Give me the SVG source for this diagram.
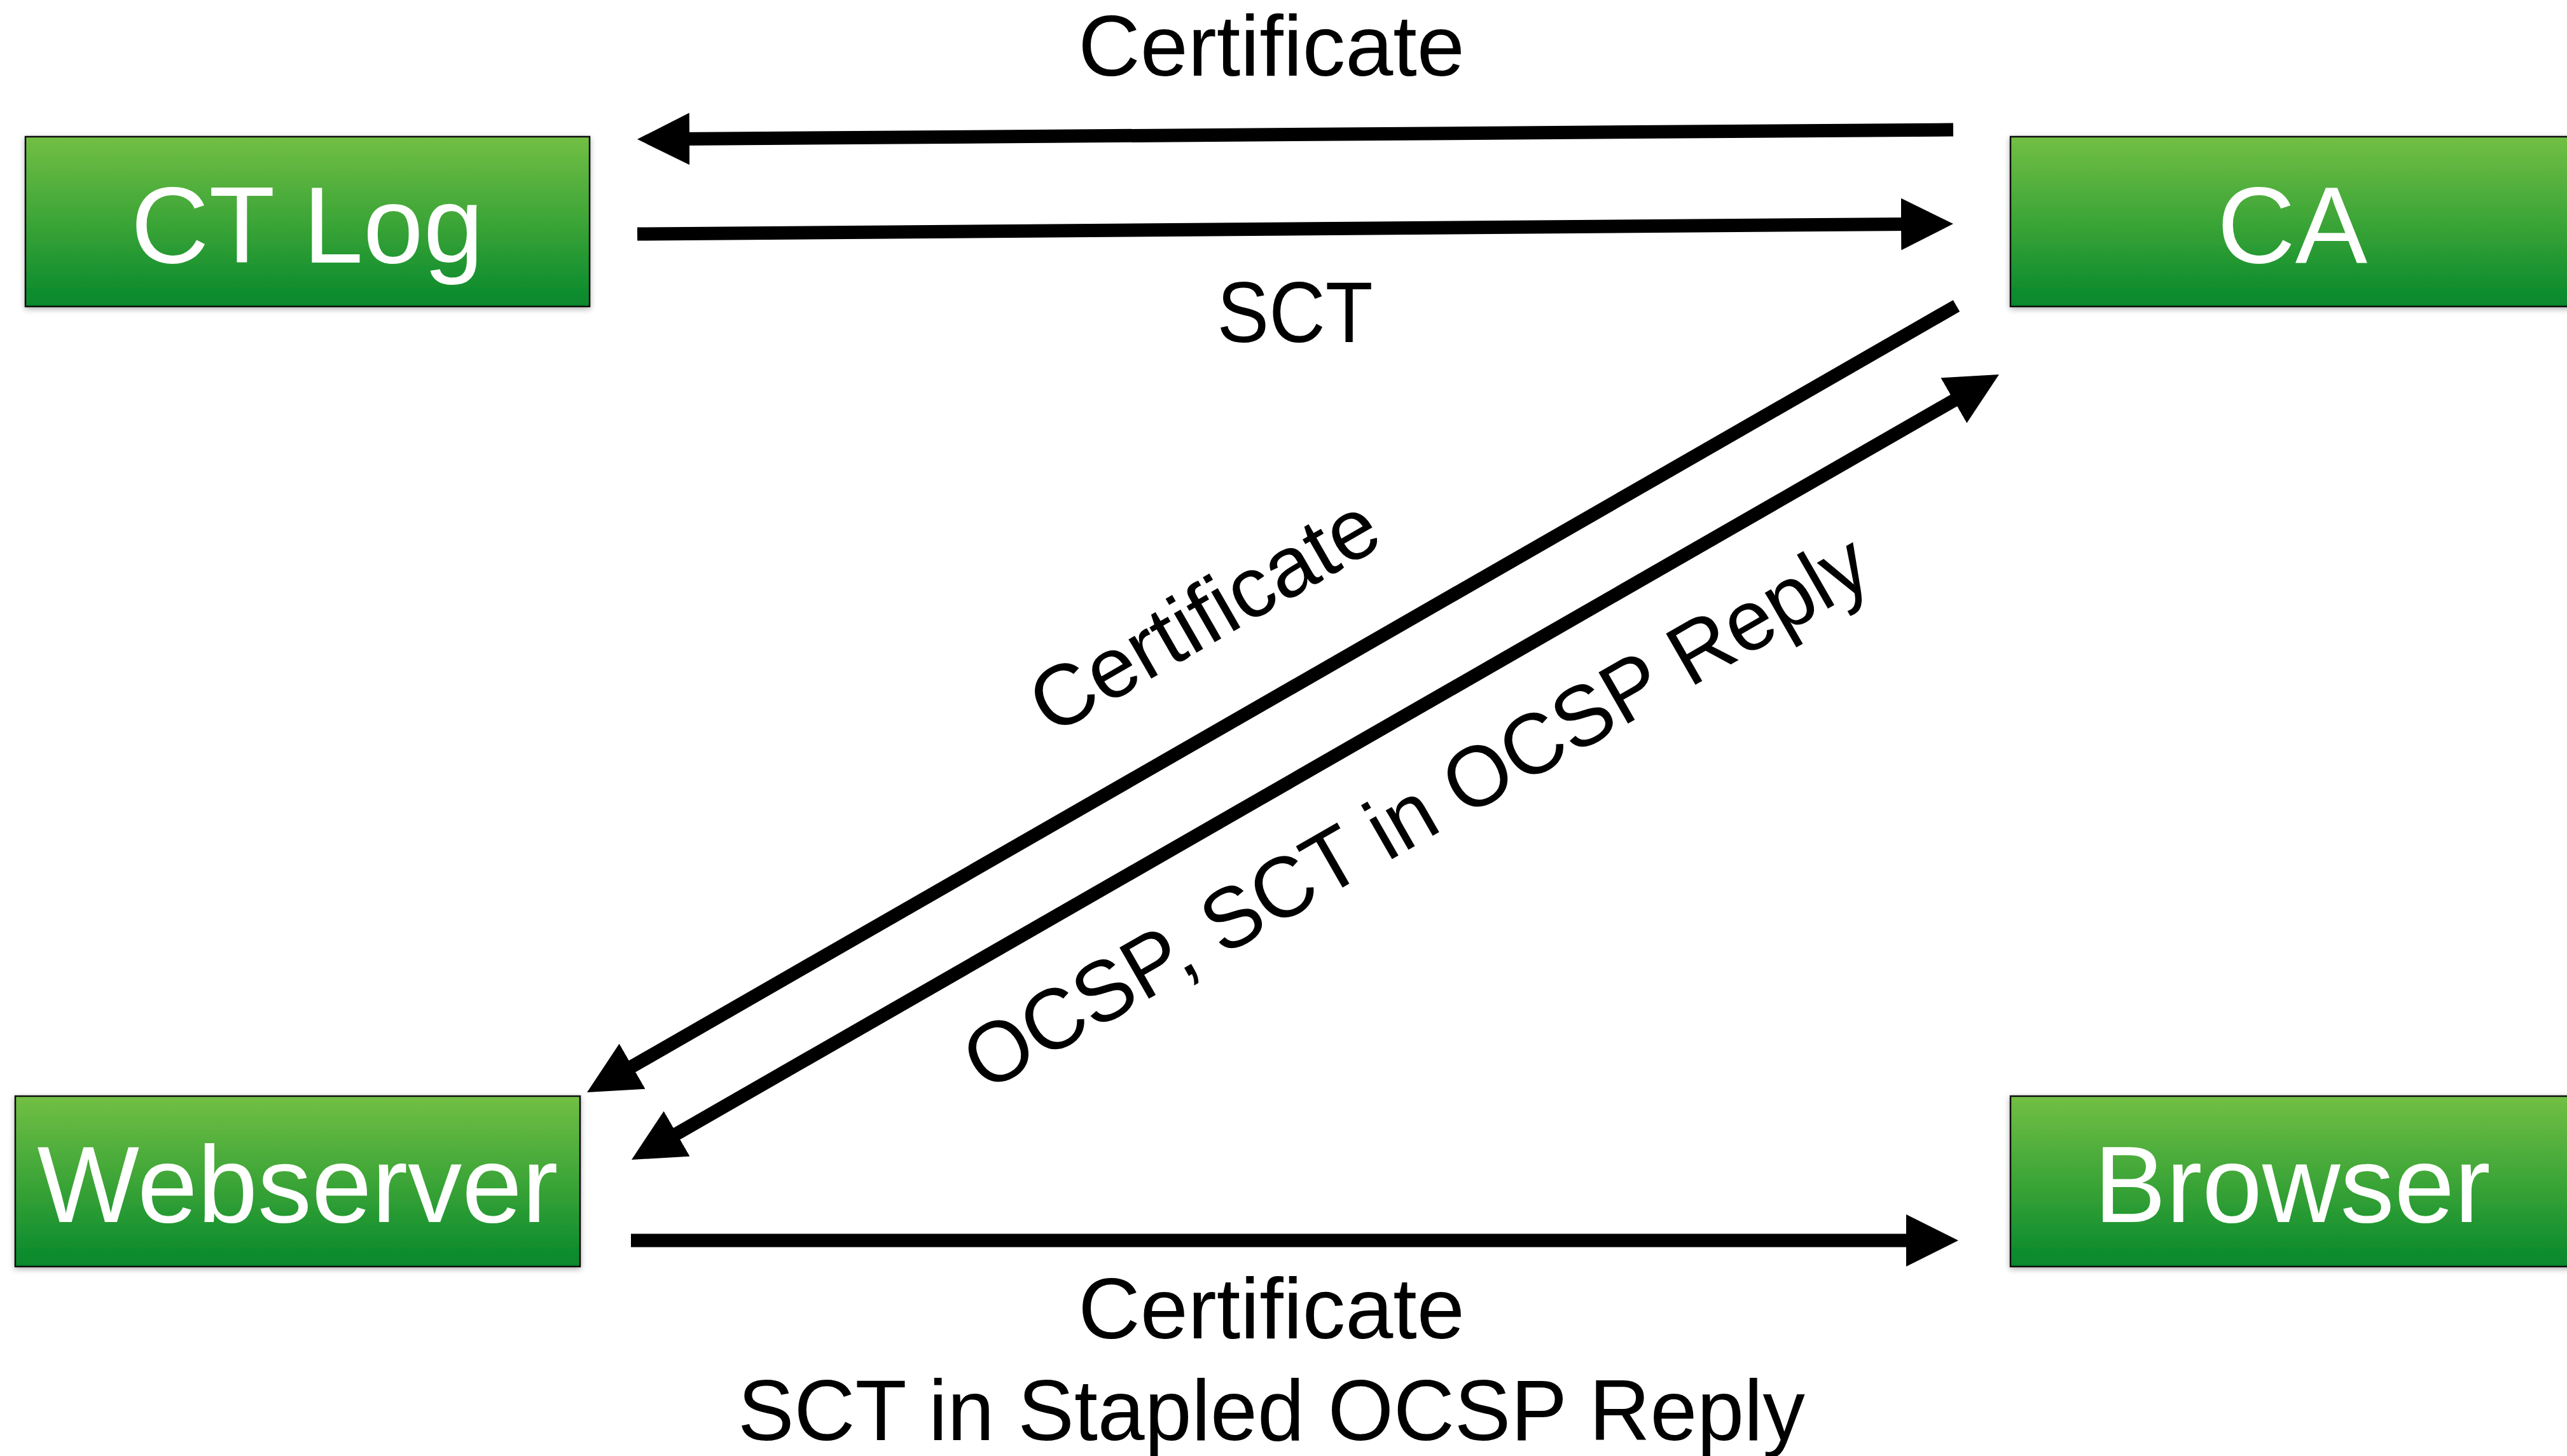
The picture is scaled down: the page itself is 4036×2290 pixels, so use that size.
<svg xmlns="http://www.w3.org/2000/svg" width="4036" height="2290" viewBox="0 0 4036 2290">
  <defs>
    <linearGradient id="g" x1="0" y1="0" x2="0" y2="1">
      <stop offset="0" stop-color="#72bf44"/>
      <stop offset="0.5" stop-color="#3ca537"/>
      <stop offset="1" stop-color="#05882c"/>
    </linearGradient>
    <filter id="sh" x="-5%" y="-10%" width="110%" height="120%">
      <feDropShadow dx="0" dy="3" stdDeviation="5" flood-color="#000" flood-opacity="0.3"/>
    </filter>
    <marker id="ah" markerUnits="userSpaceOnUse" viewBox="0 0 82 82" markerWidth="82" markerHeight="82" refX="12" refY="41" orient="auto-start-reverse">
      <path d="M0,0 L82,41 L0,82 z" fill="#000"/>
    </marker>
    <style>
      .box { fill: url(#g); stroke: #111; stroke-width: 2.5; filter: url(#sh); }
      .nt { font-family: "Liberation Sans", Arial, sans-serif; font-size: 170px; fill: #fff; text-anchor: middle; }
      .lb { font-family: "Liberation Sans", Arial, sans-serif; font-size: 135px; fill: #000; text-anchor: middle; }
      .ar { stroke: #000; stroke-width: 21; fill: none; }
    </style>
  </defs>
  <rect width="4036" height="2290" fill="#fff"/>

  <g id="ctlog">
    <rect class="box" x="40" y="215" width="887" height="267"/>
    <text class="nt" x="483" y="413">CT Log</text>
  </g>
  <g id="ca">
    <rect class="box" x="3161" y="215" width="887" height="267"/>
    <text class="nt" x="3604" y="413">CA</text>
  </g>
  <g id="webserver">
    <rect class="box" x="24" y="1724" width="888" height="268"/>
    <text class="nt" x="468" y="1922">Webserver</text>
  </g>
  <g id="browser">
    <rect class="box" x="3161" y="1724" width="887" height="268"/>
    <text class="nt" x="3604" y="1922">Browser</text>
  </g>

  <g id="connectors">
    <line class="ar" x1="3071" y1="204" x2="1072" y2="218.5" marker-end="url(#ah)"/>
    <line class="ar" x1="1002" y1="368" x2="3001" y2="352.5" marker-end="url(#ah)"/>
    <line class="ar" x1="3076" y1="481" x2="983.7" y2="1683.1" marker-end="url(#ah)"/>
    <line class="ar" x1="1053.7" y1="1789.1" x2="3082.3" y2="623.9" marker-start="url(#ah)" marker-end="url(#ah)"/>
    <line class="ar" x1="992" y1="1951" x2="3009" y2="1951" marker-end="url(#ah)"/>
  </g>

  <g id="labels">
    <text class="lb" x="1999" y="119">Certificate</text>
    <text class="lb" x="2036" y="538" textLength="245" lengthAdjust="spacingAndGlyphs">SCT</text>
    <text class="lb" transform="translate(1892,965) rotate(-29.88)" x="0" y="48">Certificate</text>
    <text class="lb" transform="translate(2225,1275) rotate(-29.88)" x="0" y="48" textLength="1615" lengthAdjust="spacingAndGlyphs">OCSP, SCT in OCSP Reply</text>
    <text class="lb" x="1999" y="2105">Certificate</text>
    <text class="lb" x="1999" y="2265" textLength="1678" lengthAdjust="spacingAndGlyphs">SCT in Stapled OCSP Reply</text>
  </g>
</svg>
